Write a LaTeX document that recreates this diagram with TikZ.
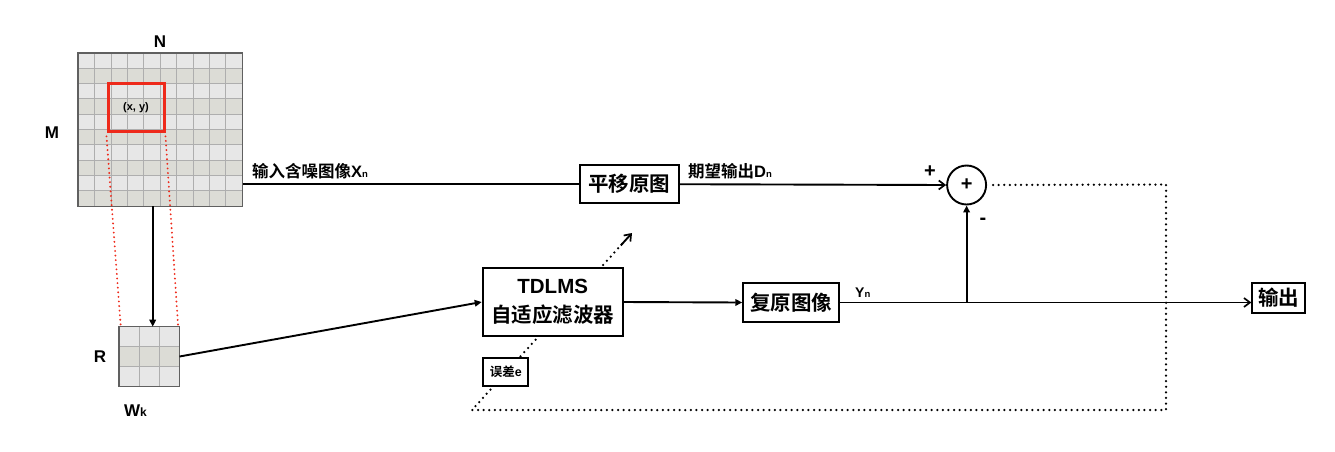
\documentclass[tikz,border=0pt]{standalone}
\usepackage{fontspec}
\setmainfont{Liberation Sans}
\newfontfamily\cjk{Noto Sans CJK SC}[BoldFont={Noto Sans CJK SC Bold}]
\usetikzlibrary{arrows.meta,calc}
\definecolor{rowlight}{HTML}{E7E7E7}
\definecolor{rowdark}{HTML}{DCDCD6}
\definecolor{gridline}{HTML}{AEAEAE}
\definecolor{gridborder}{HTML}{606060}
\definecolor{redbox}{HTML}{EE2A1B}
\newcommand{\subn}[1]{\raisebox{-0.5pt}{\fontsize{9.5}{9.5}\selectfont #1}}
\begin{document}
\begin{tikzpicture}[x=1pt,y=-1pt,
  box/.style={draw=black, line width=2pt, fill=white, inner sep=0pt, align=center,
    font=\cjk\bfseries\fontsize{20.5}{29}\selectfont},
  lbl/.style={font=\cjk\bfseries\fontsize{16.5}{20}\selectfont, inner sep=0pt, anchor=base west},
  latin/.style={font=\bfseries\fontsize{17}{20}\selectfont, inner sep=0pt},
  flow/.style={draw, line width=1.9pt, -{Triangle[length=7pt,width=6.5pt]}},
  openflow/.style={draw, line width=1.9pt, -{Straight Barb[length=6pt,width=9pt,line width=1.7pt]}},
  plain/.style={draw, line width=1.9pt},
  dotline/.style={draw, line width=2.5pt, line cap=round, dash pattern=on 0pt off 5.6pt},
  reddot/.style={draw=redbox, line width=2.1pt, line cap=round, dash pattern=on 0pt off 4.6pt},
]
\useasboundingbox (0,0) rectangle (1335,451);

% ---------- big grid ----------
\node[inner sep=0pt, minimum width=164pt, minimum height=153pt] (big) at (160.3,129.6) {};
\foreach \r in {0,...,9}{
  \pgfmathsetmacro{\yy}{53+\r*15.3}
  \ifodd\r
    \fill[rowdark] (78.3,\yy) rectangle (242.3,\yy+15.3);
  \else
    \fill[rowlight] (78.3,\yy) rectangle (242.3,\yy+15.3);
  \fi
}
\foreach \c in {1,...,9}{
  \draw[gridline, line width=1pt] (78.3+\c*16.4,53) -- (78.3+\c*16.4,206.2);
  \draw[gridline, line width=1pt] (78.3,53+\c*15.3) -- (242.3,53+\c*15.3);
}
\draw[gridborder, line width=1.4pt] (big.north west) rectangle (big.south east);

% window
\node[draw=redbox, line width=3pt, inner sep=0pt, minimum width=56pt, minimum height=48pt,
  font=\bfseries\fontsize{11}{13}\selectfont] (win) at (136,107.8) {(x, y)};

% ---------- small grid ----------
\node[inner sep=0pt, minimum width=60pt, minimum height=59.6pt] (small) at (149.3,356.5) {};
\fill[rowlight] (small.north west) rectangle (small.south east);
\fill[rowdark] (119.3,346.6) rectangle (179.3,366.4);
\foreach \c in {1,2}{
  \draw[gridline, line width=1pt] (119.3+\c*20,326.7) -- (119.3+\c*20,386.3);
  \draw[gridline, line width=1pt] (119.3,326.7+\c*19.87) -- (179.3,326.7+\c*19.87);
}
\draw[gridborder, line width=1.4pt] (small.north west) rectangle (small.south east);

% red dotted projection lines
\draw[reddot] ($(win.south west)+(0,3)$) -- ($(small.north west)+(1.5,-2)$);
\draw[reddot] ($(win.south east)+(0,3)$) -- ($(small.north east)+(-1.5,-2)$);

% grid labels
\node[latin] (lN) at (160,42) {N};
\node[latin] (lM) at (52,133) {M};
\node[latin] (lR) at (100,357) {R};
\node[latin, anchor=base west] (lW) at (124,416) {W{\fontsize{12}{12}\selectfont k}};

% ---------- sum and dotted feedback ----------
\node[draw, circle, line width=1.9pt, minimum size=39pt, inner sep=0pt, fill=white,
  font=\bfseries\fontsize{20}{20}\selectfont] (sum) at (966.6,185) {+};
\coordinate (c1) at (1166,184.5);
\coordinate (c2) at (1166,410);
\coordinate (c3) at (472,410);
\coordinate (tip) at (632,233);
\draw[dotline] ($(sum.east)+(6,0)$) -- (c1) -- (c2) -- (c3) -- ($(c3)!0.94!(tip)$);
\draw[line width=1.9pt, -{Straight Barb[length=6pt,width=9pt,line width=1.7pt]}] ($(c3)!0.93!(tip)$) -- (tip);

% ---------- boxes ----------
\node[box] (ping) at (629.3,184.2) [minimum width=98.7pt, minimum height=38.3pt] {平移原图};
\node[box] (tdlms) at (552.7,302) [minimum width=140pt, minimum height=67.4pt]
  {{\fontspec{Liberation Sans}\bfseries TDLMS}\\自适应滤波器};
\node[box] (fuyuan) at (791.3,302.5) [minimum width=96pt, minimum height=39.6pt] {复原图像};
\node[box] (out) at (1278.7,298) [minimum width=52.7pt, minimum height=30.6pt] {输出};
\node[box, font=\cjk\bfseries\fontsize{12.5}{14}\selectfont] (err) at (505.8,372) [minimum width=45pt, minimum height=27.4pt] {误差{\fontspec{Liberation Sans}\bfseries e}};

% ---------- connectors ----------
\draw[plain] (big.east |- ping.west) -- (ping.west);
\draw[openflow] (ping.east) -- (sum.west);
\draw[flow] (152.7,206.2) -- (152.7,326.7);
\draw[flow] (small.east) -- (tdlms.west);
\draw[flow] (tdlms.east) -- (fuyuan.west);
\coordinate (j) at (sum.south |- fuyuan.east);
\draw[openflow] (fuyuan.east) -- (out.west |- fuyuan.east);
\draw[flow] (j) -- (sum.south);

% ---------- labels ----------
\node[lbl] (lx) at (252,177) {输入含噪图像{\fontspec{Liberation Sans}\bfseries X\subn{n}}};
\node[lbl] (ld) at (688,177) {期望输出{\fontspec{Liberation Sans}\bfseries D\subn{n}}};
\node[latin, anchor=base west, font=\bfseries\fontsize{14}{16}\selectfont] (ly) at (855,297) {Y\subn{n}};
\node[latin, font=\bfseries\fontsize{20}{20}\selectfont] (lplus) at (930,172) {+};
\node[latin, font=\bfseries\fontsize{20}{20}\selectfont] (lminus) at (983,221) {-};
\end{tikzpicture}
\end{document}
